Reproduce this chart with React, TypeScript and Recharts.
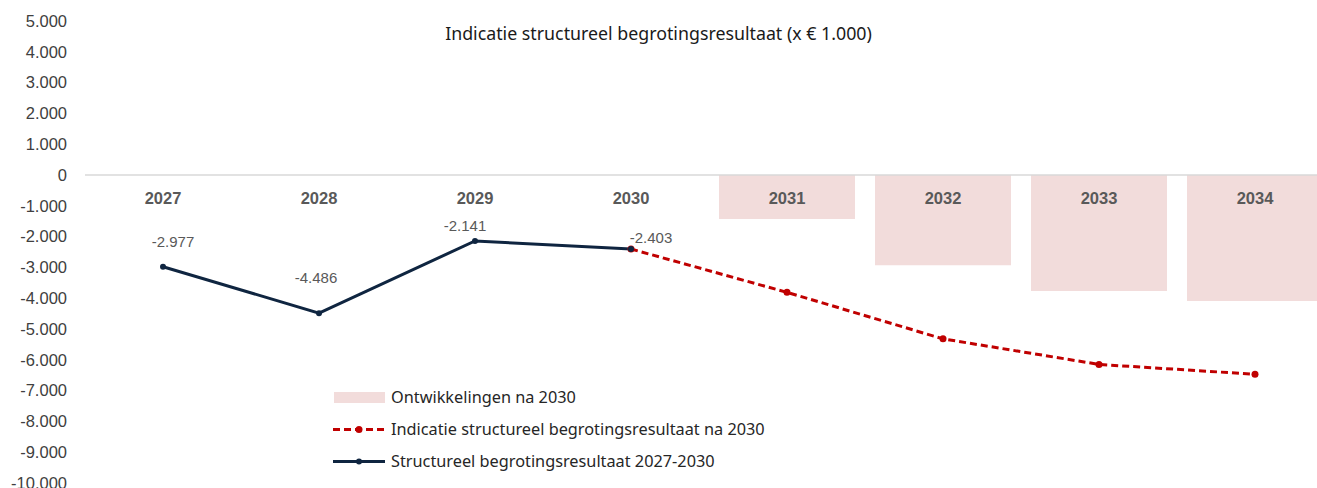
import React from 'react';
import { ComposedChart, Bar, Line, XAxis, YAxis, ReferenceLine, LabelList, Legend } from 'recharts';

const years = ['2027', '2028', '2029', '2030', '2031', '2032', '2033', '2034'];
const ontwikkelingen = [null, null, null, null, -1430, -2930, -3770, -4090];
const indicatie = [null, null, null, -2403, -3810, -5320, -6150, -6470];
const structureel = [-2977, -4486, -2141, -2403, null, null, null, null];
const yTicks = [5000, 4000, 3000, 2000, 1000, 0, -1000, -2000, -3000, -4000, -5000, -6000, -7000, -8000, -9000, -10000];

const title = 'Indicatie structureel begrotingsresultaat (x € 1.000)';
const seriesNames = {
  ontwikkelingen: 'Ontwikkelingen na 2030',
  indicatie: 'Indicatie structureel begrotingsresultaat na 2030',
  structureel: 'Structureel begrotingsresultaat 2027-2030',
};
const legendOrder = ['ontwikkelingen', 'indicatie', 'structureel'];

const data = years.map((year, i) => ({
  year,
  ontwikkelingen: ontwikkelingen[i],
  indicatie: indicatie[i],
  structureel: structureel[i],
}));

const fmt = (v: number) => {
  const s = Math.abs(v).toString().replace(/\B(?=(\d{3})+(?!\d))/g, '.');
  return (v < 0 ? '-' : '') + s;
};

const NAVY = '#0f2540';
const RED = '#c00000';
const PINK = '#f2dcdb';
const LEGEND_FONT = '"Noto Sans", sans-serif';
const AXIS_FONT = '"Liberation Sans", Arial, sans-serif';

const labelNudge: Record<string, [number, number]> = {
  '2027': [10, -25],
  '2028': [-3, -36],
  '2029': [-10, -15],
  '2030': [20, -12],
};

const ValueLabel = (props: any) => {
  const { x, y, value, index } = props;
  if (value == null) return null;
  const [dx, dy] = labelNudge[years[index]] || [0, -15];
  return (
    <text x={x + dx} y={y + dy} textAnchor="middle" dominantBaseline="central"
      fontFamily={AXIS_FONT} fontSize={15} fill="#595959">
      {fmt(value)}
    </text>
  );
};

const LegendContent = (props: any) => {
  const payload = (props.payload || [])
    .filter((p: any) => legendOrder.includes(p.dataKey))
    .sort((a: any, b: any) => legendOrder.indexOf(a.dataKey) - legendOrder.indexOf(b.dataKey));
  return (
    <div style={{ fontFamily: LEGEND_FONT, fontSize: 16.3, color: '#262626' }}>
      {payload.map((p: any) => {
        let sw;
        if (p.dataKey === 'ontwikkelingen') {
          sw = <rect x={1} y={6} width={51} height={11} fill={PINK} />;
        } else if (p.dataKey === 'indicatie') {
          sw = (
            <g>
              <line x1={0} y1={11.5} x2={52} y2={11.5} stroke={RED} strokeWidth={3} strokeDasharray="7 4" />
              <circle cx={26} cy={11.5} r={3.5} fill={RED} />
            </g>
          );
        } else {
          sw = (
            <g>
              <line x1={0} y1={11.5} x2={52} y2={11.5} stroke={NAVY} strokeWidth={3} />
              <circle cx={26} cy={11.5} r={3} fill={NAVY} />
            </g>
          );
        }
        return (
          <div key={p.dataKey} style={{ display: 'flex', alignItems: 'center', height: 32 }}>
            <svg width={56} height={23} style={{ marginRight: 2 }}>{sw}</svg>
            <span>{p.value}</span>
          </div>
        );
      })}
    </div>
  );
};

export default function App() {
  return (
    <div style={{ position: 'absolute', left: 0, top: 0, width: 1317, height: 488, overflow: 'hidden', background: '#fff' }}>
      <ComposedChart width={1340} height={488} data={data}
        margin={{ top: 21, right: 7, bottom: 5, left: 0 }} barCategoryGap={10}>
        <XAxis dataKey="year" hide />
        <YAxis domain={[-10000, 5000]} ticks={yTicks} interval={0} width={85}
          axisLine={false} tickLine={false} tickMargin={12} tickFormatter={fmt}
          tick={{ fontFamily: AXIS_FONT, fontSize: 16.5, fill: '#404040' }} />
        <Bar dataKey="ontwikkelingen" name={seriesNames.ontwikkelingen} fill={PINK} isAnimationActive={false} />
        <ReferenceLine y={0} stroke="#d9d9d9" strokeWidth={1.5} />
        <Line dataKey={() => 0} stroke="none" dot={false} activeDot={false} legendType="none" isAnimationActive={false}>
          <LabelList dataKey="year" position="bottom" offset={17}
            style={{ fontFamily: AXIS_FONT, fontSize: 16.5, fontWeight: 700, fill: '#595959' }} />
        </Line>
        <Line dataKey="indicatie" name={seriesNames.indicatie} stroke={RED} strokeWidth={3}
          strokeDasharray="7 4" dot={{ r: 3.5, fill: RED, stroke: RED, strokeWidth: 0 }} activeDot={false}
          isAnimationActive={false} />
        <Line dataKey="structureel" name={seriesNames.structureel} stroke={NAVY} strokeWidth={3}
          dot={{ r: 3, fill: NAVY, stroke: NAVY, strokeWidth: 0 }} activeDot={false} isAnimationActive={false}>
          <LabelList dataKey="structureel" content={ValueLabel} />
        </Line>
        <Legend layout="vertical" align="center" verticalAlign="middle" content={LegendContent}
          wrapperStyle={{ left: 333, top: 381, width: 'auto', height: 'auto' }} />
      </ComposedChart>
      <div style={{ position: 'absolute', left: 0, top: 21, width: 1317, textAlign: 'center',
        fontFamily: LEGEND_FONT, fontSize: 17.8, color: '#1a1a1a', lineHeight: '24px' }}>
        {title}
      </div>
    </div>
  );
}
